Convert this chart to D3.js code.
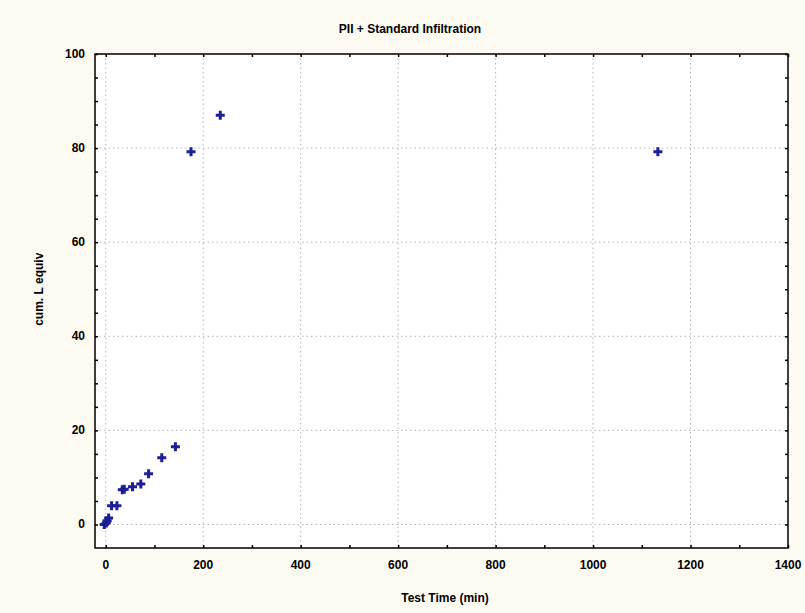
<!DOCTYPE html>
<html>
<head>
<meta charset="utf-8">
<script src="https://cdn.jsdelivr.net/npm/d3@7"></script>
<style>
  body { margin: 0; background: #fdfbf1; }
  text { font-family: "Liberation Sans", Arial, sans-serif; fill: #000; font-weight: bold; }
</style>
</head>
<body>
<div id="chart"></div>
<script>
const testTime = [-3, 1, 3, 6, 12, 23, 34, 38, 55, 72, 88, 115, 143, 175, 235, 1133];
const cumLEquiv = [0, 0.3, 0.8, 1.4, 4, 4, 7.4, 7.5, 8, 8.6, 10.8, 14.2, 16.5, 79.2, 87, 79.2];
const xTicks = [0, 200, 400, 600, 800, 1000, 1200, 1400];
const yTicks = [0, 20, 40, 60, 80, 100];

const W = 805, H = 613;
const margin = { top: 54, right: 17, bottom: 65, left: 95 };
const width = W - margin.left - margin.right;
const height = H - margin.top - margin.bottom;

const root = d3.select("#chart").append("svg")
    .attr("width", W)
    .attr("height", H);

root.append("rect").attr("width", W).attr("height", H).attr("fill", "#fdfbf1");

const svg = root.append("g")
    .attr("transform", `translate(${margin.left}, ${margin.top})`);

const x = d3.scaleLinear().domain([-22, 1400]).range([0, width]);
const y = d3.scaleLinear().domain([-5, 100]).range([height, 0]);

svg.append("rect")
    .attr("width", width)
    .attr("height", height)
    .attr("fill", "#fff");

// dotted grid
svg.append("g").selectAll("line")
    .data(xTicks.slice(0, -1))
    .enter().append("line")
    .attr("x1", d => x(d)).attr("x2", d => x(d))
    .attr("y1", 0).attr("y2", height)
    .attr("stroke", "#b4b4b4")
    .attr("stroke-dasharray", "1.5,3");

svg.append("g").selectAll("line")
    .data(yTicks.slice(0, -1))
    .enter().append("line")
    .attr("y1", d => y(d)).attr("y2", d => y(d))
    .attr("x1", 0).attr("x2", width)
    .attr("stroke", "#b4b4b4")
    .attr("stroke-dasharray", "1.5,3");

// inward ticks on all four sides
const xMinor = d3.range(0, 1401, 100);
const yMinor = d3.range(0, 101, 5);

function tickAxis(axis, scale, vals, len) {
    return axis(scale).tickValues(vals).tickSize(-len).tickFormat("");
}

svg.append("g").attr("transform", `translate(0, ${height})`)
    .call(tickAxis(d3.axisBottom, x, xMinor, 3));
svg.append("g")
    .call(tickAxis(d3.axisTop, x, xMinor, 3));
svg.append("g")
    .call(tickAxis(d3.axisLeft, y, yMinor, 3));
svg.append("g").attr("transform", `translate(${width}, 0)`)
    .call(tickAxis(d3.axisRight, y, yMinor, 3));

svg.selectAll(".domain").remove();
svg.selectAll(".tick line").attr("stroke", "#000").attr("stroke-width", 1.5);

// frame
svg.append("rect")
    .attr("width", width)
    .attr("height", height)
    .attr("fill", "none")
    .attr("stroke", "#000")
    .attr("stroke-width", 1.5);

// tick labels
svg.append("g").selectAll("text")
    .data(xTicks)
    .enter().append("text")
    .attr("x", d => x(d))
    .attr("y", height + 21)
    .attr("text-anchor", "middle")
    .style("font-size", "12px")
    .text(d => d);

svg.append("g").selectAll("text")
    .data(yTicks)
    .enter().append("text")
    .attr("x", -10)
    .attr("y", d => y(d) + 4)
    .attr("text-anchor", "end")
    .style("font-size", "12px")
    .text(d => d);

// points as "+" markers
const pts = testTime.map((t, i) => ({ t: t, v: cumLEquiv[i] }));
svg.append("g").selectAll("path")
    .data(pts)
    .enter().append("path")
    .attr("transform", d => `translate(${x(d.t)}, ${y(d.v)})`)
    .attr("d", "M-4.5,0H4.5M0,-4.5V4.5")
    .attr("stroke", "#1e1e96")
    .attr("stroke-width", 3);

// titles
root.append("text")
    .attr("x", 410)
    .attr("y", 33)
    .attr("text-anchor", "middle")
    .style("font-size", "12px")
    .text("PII + Standard Infiltration");

root.append("text")
    .attr("x", 445)
    .attr("y", 602)
    .attr("text-anchor", "middle")
    .style("font-size", "12px")
    .text("Test Time (min)");

root.append("text")
    .attr("transform", `translate(43, ${margin.top + y(50)}) rotate(-90)`)
    .attr("text-anchor", "middle")
    .style("font-size", "12px")
    .text("cum. L equiv");
</script>
</body>
</html>
